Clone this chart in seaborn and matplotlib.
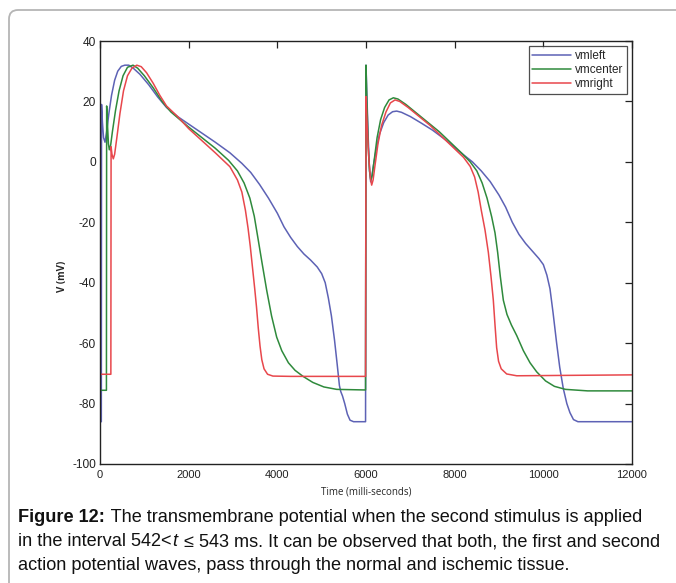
import numpy as np
import pandas as pd
import matplotlib
matplotlib.use('Agg')
import matplotlib.pyplot as plt
import seaborn as sns
from matplotlib.patches import FancyBboxPatch

# ---- data (time in ms, potential in mV) ----
t_left = [0, 30, 35, 55, 80, 113, 150, 200, 260, 330, 400, 480, 560, 650, 750, 900, 1100,
          1300, 1500, 1750, 2000, 2300, 2600, 2930, 3200, 3400, 3600, 3800, 4000, 4150,
          4300, 4450, 4600, 4750, 4900, 5000, 5080, 5150, 5220, 5290, 5350, 5400, 5430,
          5470, 5520, 5580, 5640, 5720, 5990,
          6000, 6020, 6050, 6080, 6105, 6130, 6170, 6230, 6300, 6400, 6500, 6600, 6692,
          6800, 7000, 7250, 7500, 7820, 8100, 8400, 8600, 8800, 9000, 9150, 9300, 9450,
          9600, 9750, 9900, 10000, 10080, 10150, 10220, 10300, 10370, 10450, 10530, 10600,
          10680, 10780, 12000]
v_left = [-86, -86, 19, 13, 8, 6.5, 10, 16, 22, 27, 30, 31.6, 32, 32, 31, 29, 25.5,
          21.5, 18, 15, 12.5, 9.5, 6.5, 3, -0.5, -3.5, -7.5, -12, -17, -21.5,
          -25, -28, -30.5, -32.5, -34.8, -37, -40, -45, -51, -59, -67, -74, -76,
          -77.5, -80, -83.5, -85.5, -86, -86,
          32, 22, 8, -3, -6.6, -5, -1, 4, 9, 13, 15.5, 16.6, 16.8,
          16.4, 15, 12.8, 10.5, 7, 3.5, 0, -3, -6.5, -11, -15, -20, -24,
          -27, -29.5, -32, -34, -37.5, -42, -50, -60, -68, -75, -80, -83,
          -85.3, -86, -86]

t_center = [0, 145, 150, 170, 190, 210, 240, 280, 350, 430, 520, 620, 745, 850, 1000,
            1200, 1400, 1600, 2000, 2300, 2600, 2900, 3100, 3250, 3380, 3480, 3570, 3650,
            3760, 3870, 3985, 4100, 4250, 4400, 4580, 4800, 5050, 5340, 5990,
            6000, 6020, 6050, 6080, 6110, 6140, 6180, 6250, 6330, 6420, 6520, 6617, 6720,
            6900, 7150, 7400, 7650, 7900, 8150, 8350, 8500, 8620, 8730, 8835, 8910, 8970,
            9030, 9098, 9180, 9280, 9400, 9550, 9700, 9850, 10050, 10250, 10500, 11000,
            12000]
v_center = [-75.6, -75.6, 18.5, 12, 6, 4, 5.5, 10, 17, 23.5, 28.5, 31.3, 32, 31, 28.5,
            24.5, 20, 16.5, 11.5, 8, 4.5, 0.5, -3, -7, -12, -18, -25.9, -33,
            -42.5, -51, -58, -62.5, -66.5, -69, -71, -73, -74.5, -75.3, -75.5,
            32, 20, 5, -3, -6, -4.5, 0, 8, 14, 18, 20.5, 21.2, 20.8,
            19, 16, 13, 10, 6.5, 3, 0, -3, -7, -12, -18.2, -23.5, -30,
            -38, -45.8, -50.5, -54, -57.5, -62.5, -66.5, -69.5, -72.5, -74.3, -75.3, -75.8,
            -75.8]

t_right = [0, 245, 250, 270, 300, 330, 380, 450, 530, 620, 720, 830, 930, 1050, 1200,
           1350, 1500, 1750, 2000, 2300, 2600, 2930, 3100, 3200, 3280, 3340, 3390, 3440,
           3490, 3530, 3570, 3610, 3650, 3700, 3780, 3900, 4300, 5990,
           6000, 6020, 6060, 6100, 6128, 6160, 6200, 6270, 6350, 6450, 6550, 6655, 6760,
           6950, 7200, 7450, 7700, 7950, 8200, 8350, 8450, 8530, 8600, 8685, 8760, 8820,
           8872, 8910, 8947, 8990, 9050, 9173, 9400, 12000]
v_right = [-70.3, -70.3, 5, 2.5, 1, 2.5, 8, 16, 23.5, 28.5, 31, 32, 31.5, 29.5, 26,
           22, 18.5, 15, 11, 7, 3, -1.6, -6, -10, -16, -22, -28, -35,
           -42, -48, -55, -61, -65.5, -68.5, -70.3, -70.9, -71, -71,
           21.6, 14, 2, -5.5, -7.7, -6, -1.5, 6, 12, 16.5, 19.5, 20.5, 20,
           18, 15, 12, 8.5, 5, 1.5, -1.5, -5, -10, -16, -22.6, -30, -38,
           -45.8, -54, -61.5, -66, -68.5, -70.2, -70.8, -70.5]

series_names = ['vmleft', 'vmcenter', 'vmright']
x_ticks = [0, 2000, 4000, 6000, 8000, 10000, 12000]
y_ticks = [-100, -80, -60, -40, -20, 0, 20, 40]

df = pd.concat([
    pd.DataFrame({'t': t_left, 'v': v_left, 'series': 'vmleft'}),
    pd.DataFrame({'t': t_center, 'v': v_center, 'series': 'vmcenter'}),
    pd.DataFrame({'t': t_right, 'v': v_right, 'series': 'vmright'}),
], ignore_index=True)

sns.set_theme(style='white')
plt.rcParams['font.family'] = ['Liberation Sans', 'DejaVu Sans']

W, H = 676, 583
fig = plt.figure(figsize=(W / 100, H / 100), dpi=100)
fig.patch.set_facecolor('white')
L, R, T, B = 100, 632, 41, 464
ax = fig.add_axes([L / W, 1 - B / H, (R - L) / W, (B - T) / H])

palette = {'vmleft': '#5d62b5', 'vmcenter': '#2f8a3c', 'vmright': '#e8474c'}
sns.lineplot(data=df, x='t', y='v', hue='series', hue_order=series_names,
             palette=palette, sort=False, estimator=None, lw=1.1, ax=ax)

ax.set_xlim(0, 12000)
ax.set_ylim(-100, 40)
ax.set_xticks(x_ticks)
ax.set_yticks(y_ticks)
ax.set_xticklabels([str(v) for v in x_ticks])
ax.set_yticklabels([str(v) for v in y_ticks])
ax.tick_params(direction='in', length=5, width=0.9, top=True, right=True,
               labelsize=8, colors='#222222', pad=3)
ax.tick_params(axis='y', labelsize=8.6)
ax.tick_params(axis='x', pad=4)
for s in ax.spines.values():
    s.set_visible(True)
    s.set_color('#222222')
    s.set_linewidth(1.0)

ax.set_xlabel('Time (milli-seconds)', fontsize=7, family=['Open Sans', 'DejaVu Sans'])
ax.set_ylabel('V (mV)', fontsize=7, family=['Open Sans', 'DejaVu Sans'], fontweight='bold')
ax.xaxis.set_label_coords(0.5, -(486 - B) / (B - T))
ax.yaxis.set_label_coords((68 - L) / (R - L), (B - 276) / (B - T))

leg = ax.legend(loc='upper right', fontsize=8.5, frameon=True, fancybox=False,
                handlelength=3.3, handletextpad=0.3, labelspacing=0.18,
                borderpad=0.3, borderaxespad=0.45, title=None)
leg.get_frame().set_edgecolor('#222222')
leg.get_frame().set_linewidth(0.9)

# figure border (rounded corner at upper left)
border = FancyBboxPatch((9, -20), 720, (H - 10) + 20,
                        boxstyle='round,pad=0,rounding_size=9',
                        transform=None, facecolor='none', edgecolor='#b5b5b5', lw=1.3)
fig.add_artist(border)

# caption, built from pieces so that bold / italic parts sit inline
renderer = fig.canvas.get_renderer()
cap_lines = [
    [("Figure 12:", 'bold', 'normal'),
     (" The transmembrane potential when the second stimulus is applied", 'normal', 'normal')],
    [("in the interval 542<", 'normal', 'normal'), ("t", 'normal', 'italic'),
     (" ≤ 543 ms. It can be observed that both, the first and second", 'normal', 'normal')],
    [("action potential waves, pass through the normal and ischemic tissue.", 'normal', 'normal')],
]
ys = [518, 542, 566]
fs = 13.1
for pieces, y in zip(cap_lines, ys):
    x = 18.0
    for txt, wt, st in pieces:
        tt = fig.text(x / W, 1 - y / H, txt, fontsize=fs, fontweight=wt, fontstyle=st,
                      color='#111111', va='center', ha='left')
        bb = tt.get_window_extent(renderer)
        x = bb.x1 + (1.5 if txt.endswith(':') or st == 'italic' else 0.5)

fig.savefig('out.png', dpi=100, facecolor='white')
